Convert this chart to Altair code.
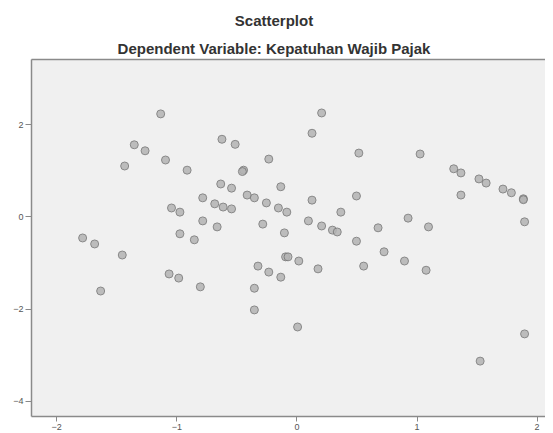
import altair as alt
import pandas as pd

x_vals = [-1.13, -1.35, -1.26, -1.09, -1.43, -0.91, -0.78, -1.04, -0.97, -0.78,
          -1.78, -1.68, -0.97, -0.85, -1.45, -1.06, -0.98, -0.80, -1.63, 0.21,
          0.13, -0.62, -0.51, 0.52, -0.23, -0.44, -0.45, -0.63, -0.54, -0.13,
          -0.41, -0.35, -0.25, 0.13, 0.50, -0.68, -0.61, -0.54, -0.15, -0.08,
          0.37, 0.10, 0.21, 0.30, 0.34, 0.68, -0.66, -0.28, -0.10, 0.50,
          -0.09, -0.07, 0.02, 0.18, 0.56, -0.32, -0.23, -0.13, -0.35, -0.35,
          0.01, 1.03, 1.31, 1.37, 1.52, 1.58, 1.72, 1.79, 1.89, 1.89,
          1.37, 1.90, 0.93, 1.10, 0.73, 0.90, 1.08, 1.90, 1.53]
y_vals = [2.22, 1.55, 1.42, 1.22, 1.09, 1.00, 0.40, 0.18, 0.09, -0.10,
          -0.47, -0.60, -0.38, -0.51, -0.84, -1.25, -1.34, -1.53, -1.62, 2.24,
          1.80, 1.67, 1.56, 1.37, 1.24, 1.00, 0.97, 0.70, 0.61, 0.64,
          0.46, 0.40, 0.29, 0.35, 0.44, 0.27, 0.20, 0.16, 0.18, 0.09,
          0.09, -0.10, -0.21, -0.30, -0.34, -0.25, -0.23, -0.17, -0.36, -0.54,
          -0.88, -0.88, -0.97, -1.14, -1.08, -1.08, -1.21, -1.32, -1.56, -2.03,
          -2.40, 1.35, 1.03, 0.94, 0.81, 0.72, 0.59, 0.51, 0.38, 0.36,
          0.46, -0.12, -0.04, -0.23, -0.77, -0.97, -1.17, -2.55, -3.14]

x_ticks = [-2, -1, 0, 1, 2]
y_ticks = [2, 0, -2, -4]

df = pd.DataFrame({"x": x_vals, "y": y_vals})

x_scale = alt.Scale(domain=[-2.21, 2.07], nice=False, zero=False)
y_scale = alt.Scale(domain=[-4.33, 3.41], nice=False, zero=False)

points = alt.Chart(df).mark_circle(
    size=64, fill="#b4b4b4", stroke="#777777", strokeWidth=1, opacity=0.85
).encode(
    x=alt.X("x:Q", scale=x_scale,
            axis=alt.Axis(values=x_ticks, title=None, grid=False, tickSize=5,
                          labelFontSize=9, labelColor="#555555", tickColor="#888888",
                          domainColor="#8a8a8a", domainWidth=1.5, labelPadding=1)),
    y=alt.Y("y:Q", scale=y_scale,
            axis=alt.Axis(values=y_ticks, title=None, grid=False, tickSize=6,
                          labelFontSize=9, labelColor="#555555", tickColor="#888888",
                          domainColor="#8a8a8a", domainWidth=1.5, labelPadding=2)),
)

top_frame = alt.Chart(df).mark_circle(opacity=0).encode(
    x=alt.X("x:Q", scale=x_scale,
            axis=alt.Axis(orient="top", title=None, labels=False, ticks=False, grid=False,
                          domainColor="#8a8a8a", domainWidth=1.5)),
    y=alt.Y("y:Q", scale=y_scale),
)

chart = alt.layer(top_frame, points).resolve_axis(x="independent").properties(
    width=514,
    height=357,
    title=alt.TitleParams(
        text="Scatterplot",
        subtitle="Dependent Variable: Kepatuhan Wajib Pajak",
        font="Liberation Sans", fontSize=15, fontWeight="bold", color="#333333",
        subtitleFont="Liberation Sans", subtitleFontSize=15, subtitleFontWeight="bold",
        subtitleColor="#333333", subtitlePadding=13, offset=2, dx=-14, anchor="middle",
    ),
    autosize="none",
    padding={"left": 23, "top": 51, "right": 0, "bottom": 16},
    background="white",
).configure_view(
    fill="#f0f0f0", strokeWidth=0
)

chart.save("out.html", embed_options={"renderer": "svg", "actions": False})
